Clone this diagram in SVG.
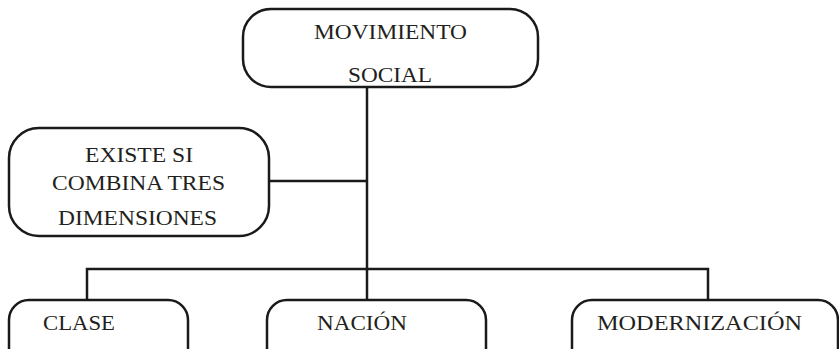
<svg xmlns="http://www.w3.org/2000/svg" width="839" height="349" viewBox="0 0 839 349">
<style>
.box{fill:#fff;stroke:#1a1a1a;stroke-width:2.5}
.ln{fill:none;stroke:#1a1a1a;stroke-width:2.5}
text{font-family:'Liberation Serif','Times New Roman',Tinos,'DejaVu Serif',serif;font-size:22px;fill:#231f20}
</style>
<rect width="839" height="349" fill="#fff"/>
<g id="connectors">
<path class="ln" d="M367 87 V300"/>
<path class="ln" d="M269 181 H367"/>
<path class="ln" d="M87 300 V269 H708 V300"/>
</g>
<g id="movimiento">
<rect class="box" x="243" y="9" width="295" height="78" rx="28"/>
<text x="314" y="39" textLength="153" lengthAdjust="spacingAndGlyphs">MOVIMIENTO</text>
<text x="348" y="82" textLength="84" lengthAdjust="spacingAndGlyphs">SOCIAL</text>
</g>
<g id="existe">
<rect class="box" x="9" y="128" width="260" height="108" rx="30"/>
<text x="85" y="162" textLength="108" lengthAdjust="spacingAndGlyphs">EXISTE SI</text>
<text x="52" y="190" textLength="173" lengthAdjust="spacingAndGlyphs">COMBINA TRES</text>
<text x="58" y="225" textLength="159" lengthAdjust="spacingAndGlyphs">DIMENSIONES</text>
</g>
<g id="clase">
<rect class="box" x="9" y="300" width="179" height="70" rx="20"/>
<text x="43" y="330" textLength="72" lengthAdjust="spacingAndGlyphs">CLASE</text>
</g>
<g id="nacion">
<rect class="box" x="267" y="300" width="219" height="70" rx="20"/>
<text x="317" y="330" textLength="90" lengthAdjust="spacingAndGlyphs">NACIÓN</text>
</g>
<g id="modernizacion">
<rect class="box" x="572" y="300" width="266" height="70" rx="20"/>
<text x="597" y="330" textLength="205" lengthAdjust="spacingAndGlyphs">MODERNIZACIÓN</text>
</g>
</svg>
